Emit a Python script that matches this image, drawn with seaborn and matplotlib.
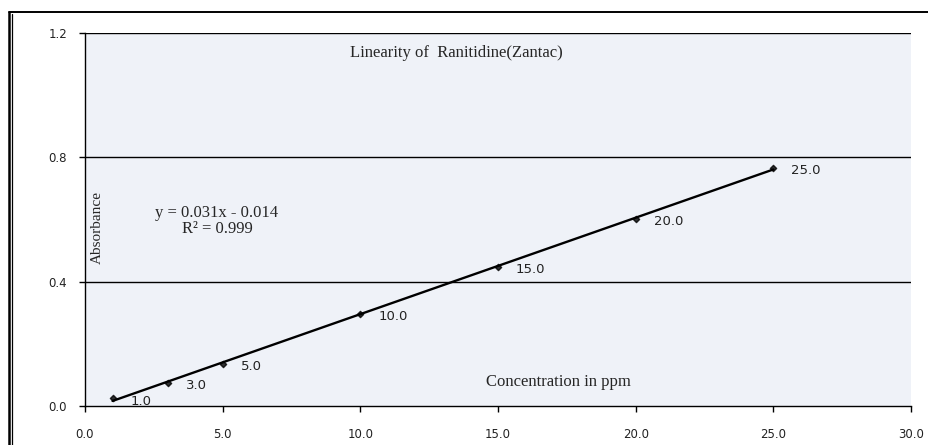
import numpy as np
import pandas as pd
import seaborn as sns
import matplotlib.pyplot as plt
from matplotlib.lines import Line2D

sns.set_theme(style="white")
plt.rcParams['font.family'] = ['Liberation Serif', 'DejaVu Serif']

# calibration data
conc = [1.0, 3.0, 5.0, 10.0, 15.0, 20.0, 25.0]
absorb = [0.025, 0.075, 0.135, 0.297, 0.448, 0.601, 0.767]
xticks = [0.0, 5.0, 10.0, 15.0, 20.0, 25.0, 30.0]
yticks = [0.0, 0.4, 0.8, 1.2]

df = pd.DataFrame({"conc": conc, "absorb": absorb})

fig = plt.figure(figsize=(9.29, 4.45), dpi=100)
ax = fig.add_axes([85 / 929, 1 - 406 / 445, (911 - 85) / 929, (406 - 33) / 445])
ax.set_facecolor("#eff2f8")

# grid lines at 0.4 / 0.8 / 1.2
for yv in yticks[1:]:
    ax.axhline(yv, color="black", lw=1.0, zorder=1)

sns.regplot(data=df, x="conc", y="absorb", ax=ax, ci=None, truncate=True,
            marker="D", color="black",
            scatter_kws={"s": 10, "zorder": 3},
            line_kws={"lw": 1.7, "color": "black", "zorder": 2})

# point labels
for cx, ay in zip(conc, absorb):
    ax.annotate(f"{cx:.1f}", (cx, ay), xytext=(13, -2), textcoords="offset points",
                ha="left", va="center", fontsize=9.5, family="DejaVu Sans", color="#222222")

ax.set_xlim(0, 30)
ax.set_ylim(0, 1.2)
ax.set_xticks(xticks)
ax.set_yticks(yticks)
ax.set_xticklabels([f"{v:.1f}" for v in xticks], fontsize=8.5, family="DejaVu Sans")
ax.set_yticklabels([f"{v:.1f}" for v in yticks], fontsize=8.5, family="DejaVu Sans")
ax.tick_params(axis="both", direction="out", length=4, width=1, color="black",
               bottom=True, left=True, labelcolor="#222222")
ax.tick_params(axis="x", pad=12)
ax.tick_params(axis="y", pad=9)
ax.set_xlabel("")
ax.set_ylabel("")

for side in ["top", "right"]:
    ax.spines[side].set_visible(False)
for side in ["left", "bottom"]:
    ax.spines[side].set_color("black")
    ax.spines[side].set_linewidth(1.0)

# texts inside the plot area, Excel style
ax.text(13.48, 1.136, "Linearity of  Ranitidine(Zantac)", ha="center", va="center", fontsize=12)
ax.text(4.79, 0.621, "y = 0.031x - 0.014", ha="center", va="center", fontsize=12)
ax.text(4.79, 0.570, "R² = 0.999", ha="center", va="center", fontsize=12)
ax.text(0.44, 0.573, "Absorbance", ha="center", va="center", rotation=90, fontsize=11)
ax.text(17.18, 0.077, "Concentration in ppm", ha="center", va="center", fontsize=12)

# outer chart border (double line on the left)
fig.add_artist(Line2D([9 / 929, 9 / 929], [0, 1 - 12 / 445], transform=fig.transFigure,
                      color="black", lw=1.8))
fig.add_artist(Line2D([12 / 929, 12 / 929], [0, 1 - 14 / 445], transform=fig.transFigure,
                      color="black", lw=0.9))
fig.add_artist(Line2D([9 / 929, 1], [1 - 12 / 445, 1 - 12 / 445], transform=fig.transFigure,
                      color="black", lw=1.4))

fig.savefig("out.png", dpi=100)
